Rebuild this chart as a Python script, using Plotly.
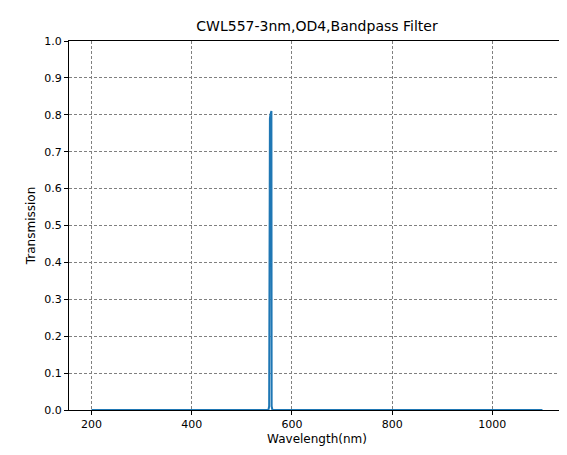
import plotly.graph_objects as go

wavelength = [200, 400, 553, 554.5, 555, 556, 557, 558, 559, 559.5, 561, 800, 1100]
transmission = [0.0, 0.0, 0.0, 0.01, 0.78, 0.79, 0.80, 0.81, 0.81, 0.01, 0.0, 0.0, 0.0]

fig = go.Figure(go.Scatter(x=wavelength, y=transmission, mode="lines",
                           line=dict(color="#1f77b4", width=2)))

axis_common = dict(showline=True, linecolor="black", mirror=True, ticks="outside",
                   ticklen=4, tickcolor="black", showgrid=True, gridcolor="gray",
                   griddash="3px,2px", gridwidth=0.6, zeroline=False, automargin=False,
                   tickfont=dict(size=11, color="black"))

fig.update_layout(
    width=567, height=455,
    margin=dict(l=61, r=10, t=33, b=53),
    plot_bgcolor="white", paper_bgcolor="white",
    font=dict(family="DejaVu Sans", color="black"),
    title=dict(text="CWL557-3nm,OD4,Bandpass Filter", x=0.545, xanchor="center",
               y=0.96, yanchor="middle", font=dict(size=14), automargin=False),
    showlegend=False,
    xaxis=dict(range=[155, 1145], tickvals=[200, 400, 600, 800, 1000],
               title=dict(text="Wavelength(nm)", font=dict(size=12), standoff=4),
               **axis_common),
    yaxis=dict(range=[0, 1], dtick=0.1, tickformat=".1f",
               title=dict(text="Transmission", font=dict(size=12), standoff=6),
               **axis_common),
)

fig.write_html("out.html")
